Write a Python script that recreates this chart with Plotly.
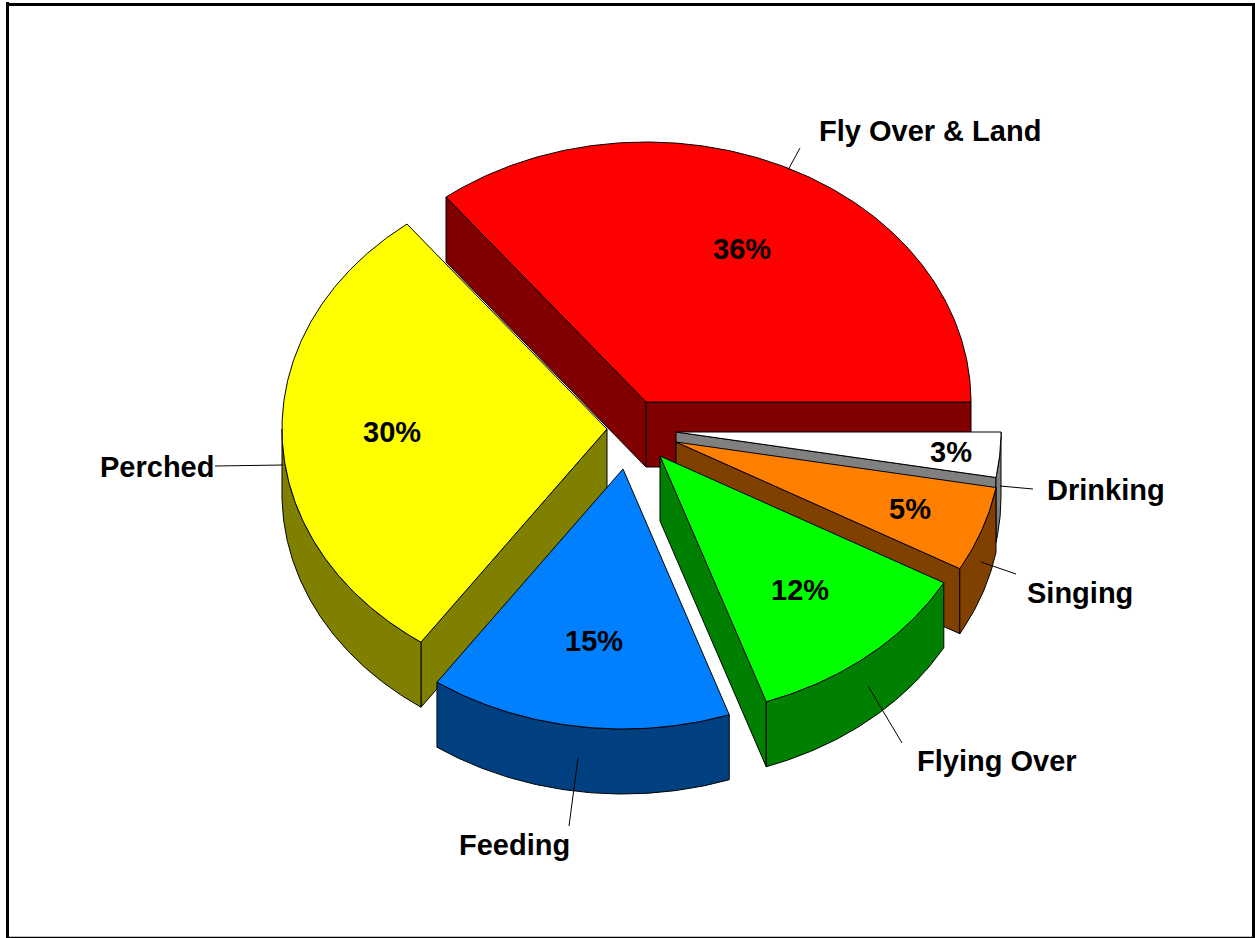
import numpy as np
import plotly.graph_objects as go

# Data
categories = ["Fly Over & Land", "Perched", "Feeding", "Flying Over", "Singing", "Drinking"]
shares = [35.55, 29.75, 15.0, 11.6, 5.3, 2.8]
share_labels = ["36%", "30%", "15%", "12%", "5%", "3%"]

# Styling
top_colors = ["#FF0000", "#FFFF00", "#0080FF", "#00FF00", "#FF8000", "#FFFFFF"]
side_colors = ["#800000", "#808000", "#004080", "#008000", "#804000", "#808080"]
apex_x = [646, 607, 623, 660, 676, 676]
apex_y = [402, 429, 469, 456, 442, 432]
share_label_x = [742, 392, 594, 800, 910, 951]
share_label_y = [248.5, 431.5, 640.5, 589.5, 508.5, 451.5]
name_label_x = [930, 157, 514, 997, 1080, 1106]
name_label_y = [130.5, 466.5, 844.5, 760.5, 592.5, 489.5]
leader_x = [(788, 800), (215, 283), (578, 569), (868, 902), (981, 1016), (1000, 1033)]
leader_y = [(170, 148), (466, 465), (758, 826), (686, 743), (562, 574), (486, 489)]
draw_order = [0, 5, 4, 1, 3, 2]
RX, RY, DEPTH = 325, 260, 65
FONT = dict(family="Liberation Sans", size=29, color="black")

fracs = np.array(shares) / sum(shares)
ends = np.cumsum(fracs) * 2 * np.pi
starts = np.concatenate([[0], ends[:-1]])


def arc(cx, cy, t0, t1, dy=0):
    n = max(2, int(abs(t1 - t0) / np.radians(0.5)) + 1)
    t = np.linspace(t0, t1, n)
    return cx + RX * np.cos(t), cy - RY * np.sin(t) + dy


fig = go.Figure()


def poly(xs, ys, color):
    fig.add_trace(go.Scatter(
        x=np.append(xs, xs[0]), y=np.append(ys, ys[0]), mode="lines", fill="toself",
        fillcolor=color, line=dict(color="black", width=1),
        hoverinfo="skip", showlegend=False))


for i in draw_order:
    cx, cy, t0, t1 = apex_x[i], apex_y[i], starts[i], ends[i]
    side = side_colors[i]
    # radial walls that face the viewer
    for t, visible in ((t0, np.cos(t0) > 0), (t1, np.cos(t1) < 0)):
        if visible:
            ex, ey = cx + RX * np.cos(t), cy - RY * np.sin(t)
            poly(np.array([cx, ex, ex, cx]), np.array([cy, ey, ey + DEPTH, cy + DEPTH]), side)
    # outer rim, front half of the ellipse only
    r0, r1 = max(t0, np.pi), min(t1, 2 * np.pi)
    if r1 > r0:
        ax, ay = arc(cx, cy, r0, r1)
        bx, by = arc(cx, cy, r1, r0, DEPTH)
        poly(np.concatenate([ax, bx]), np.concatenate([ay, by]), side)
    # top face
    ax, ay = arc(cx, cy, t0, t1)
    poly(np.concatenate([[cx], ax]), np.concatenate([[cy], ay]), top_colors[i])

shapes = []
for lx, ly in zip(leader_x, leader_y):
    shapes.append(dict(type="line", xref="x", yref="y", x0=lx[0], x1=lx[1], y0=ly[0], y1=ly[1],
                       line=dict(color="black", width=1)))
# frame
for x0, y0, x1, y1, w in [(7.5, 2, 7.5, 938, 3), (6, 4.5, 1255, 4.5, 3),
                          (1253.5, 3, 1253.5, 938, 3), (6, 937.5, 1255, 937.5, 1.5)]:
    shapes.append(dict(type="line", xref="x", yref="y", x0=x0, x1=x1, y0=y0, y1=y1,
                       line=dict(color="black", width=w)))

annotations = []
for i, name in enumerate(categories):
    annotations.append(dict(x=name_label_x[i], y=name_label_y[i], xref="x", yref="y", text=f"<b>{name}</b>",
                            showarrow=False, font=FONT, xanchor="center", yanchor="middle"))
    annotations.append(dict(x=share_label_x[i], y=share_label_y[i], xref="x", yref="y",
                            text=f"<b>{share_labels[i]}</b>",
                            showarrow=False, font=FONT, xanchor="center", yanchor="middle"))

fig.update_layout(
    width=1255, height=938, autosize=False, margin=dict(l=0, r=0, t=0, b=0),
    paper_bgcolor="white", plot_bgcolor="white", shapes=shapes, annotations=annotations,
    xaxis=dict(range=[0, 1255], visible=False, fixedrange=True),
    yaxis=dict(range=[938, 0], visible=False, fixedrange=True),
)
fig.write_html("out.html", post_script="document.body.style.margin='0';document.body.style.overflow='hidden';",
               config=dict(displayModeBar=False))
